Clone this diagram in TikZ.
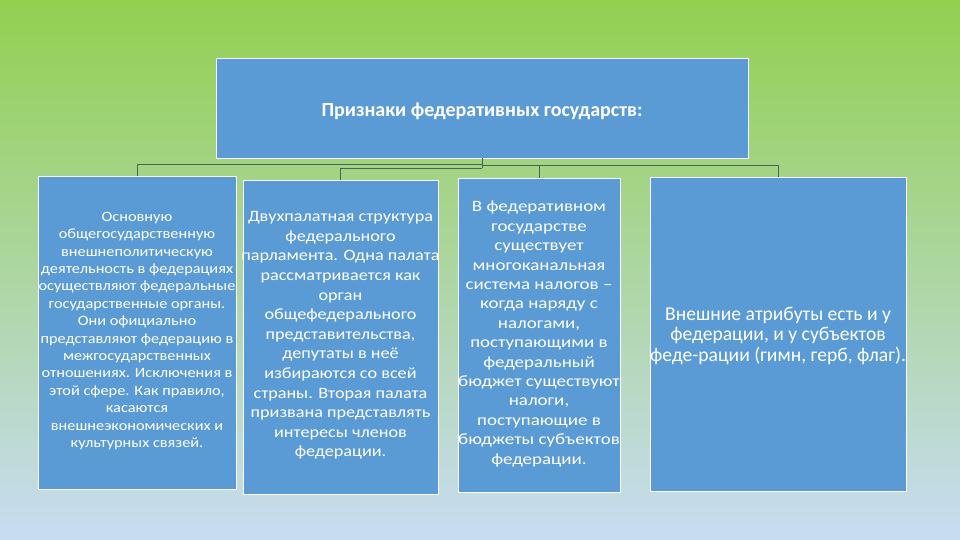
\documentclass[tikz,border=0pt]{standalone}
\usepackage{fontspec}
\setmainfont{Carlito}
\definecolor{bgtop}{RGB}{146,208,80}
\definecolor{bgbot}{RGB}{200,220,242}
\definecolor{boxfill}{RGB}{91,155,213}
\definecolor{connc}{RGB}{72,100,88}
\tikzset{
  card/.style={draw=white, line width=0.9pt, fill=boxfill, inner sep=0pt},
  cardtext/.style={text=white, align=center, inner sep=0pt},
  conn/.style={draw=connc, line width=0.8pt}
}
\begin{document}
\begin{tikzpicture}[x=1pt,y=-1pt]
\shade[top color=bgtop, bottom color=bgbot] (0,0) rectangle (960,540);
\useasboundingbox (0,0) rectangle (960,540);
% boxes
\node[card, minimum width=532pt, minimum height=100pt] (top) at (482,108) {};
\node[card, minimum width=198pt, minimum height=313pt] (b1) at (137,332.5) {};
\node[card, minimum width=195pt, minimum height=314pt] (b2) at (340.5,337) {};
\node[card, minimum width=162pt, minimum height=314pt] (b3) at (539,335) {};
\node[card, minimum width=256pt, minimum height=314pt] (b4) at (778,334) {};
% texts
\node[cardtext, font=\fontsize{20}{24}\selectfont\bfseries] (t0) at (482,111) {Признаки федеративных государств:};
\node[cardtext, font=\fontsize{14.3}{17.4}\selectfont\addfontfeatures{FakeStretch=1.14}] (t1) at (137,331) {Основную\\общегосударственную\\внешнеполитическую\\деятельность в федерациях\\осуществляют федеральные\\государственные органы.\\Они официально\\представляют федерацию в\\межгосударственных\\отношениях. Исключения в\\этой сфере. Как правило,\\касаются\\внешнеэкономических и\\культурных связей.};
\node[cardtext, font=\fontsize{15.8}{19.6}\selectfont\addfontfeatures{FakeStretch=1.15}] (t2) at (340.5,335.5) {Двухпалатная структура\\федерального\\парламента. Одна палата\\рассматривается как\\орган\\общефедерального\\представительства,\\депутаты в неё\\избираются со всей\\страны. Вторая палата\\призвана представлять\\интересы членов\\федерации.};
\node[cardtext, font=\fontsize{15.8}{19.4}\selectfont\addfontfeatures{FakeStretch=1.2}] (t3) at (539,334) {В федеративном\\государстве\\существует\\многоканальная\\система налогов –\\когда наряду с\\налогами,\\поступающими в\\федеральный\\бюджет существуют\\налоги,\\поступающие в\\бюджеты субъектов\\федерации.};
\node[cardtext, font=\fontsize{19.6}{20.5}\selectfont] (t4) at (778,335.5) {Внешние атрибуты есть и у\\федерации, и у субъектов\\феде-рации (гимн, герб, флаг).};
% connectors
\coordinate (j1) at (482,164.3);
\coordinate (j2) at (482,168.3);
\coordinate (j3) at (482,165.7);
\draw[conn] (top.south) -- (j2);
\draw[conn] (j1) -| (b1.north);
\draw[conn] (j2) -| (b2.north);
\draw[conn] (j3) -| (b3.north);
\draw[conn] (j3) -| (b4.north);
\end{tikzpicture}
\end{document}
